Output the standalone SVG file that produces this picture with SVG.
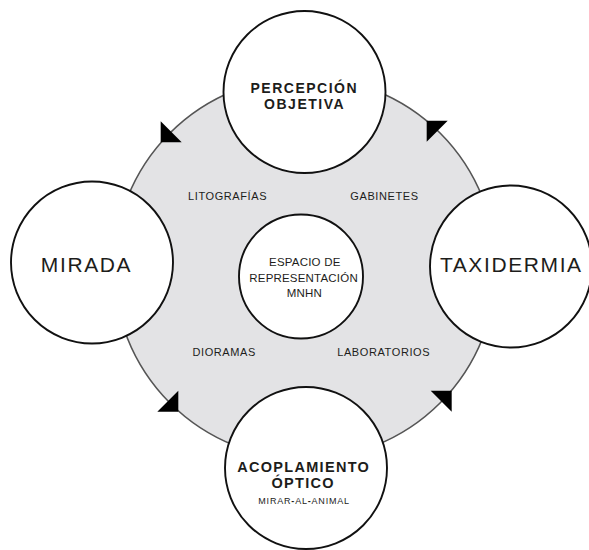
<svg xmlns="http://www.w3.org/2000/svg" width="589" height="550" viewBox="0 0 589 550">
  <defs>
    <style>
      .ring-fill { fill: #e3e3e5; stroke: none; }
      .ring { fill: none; stroke: #555555; stroke-width: 1.6; }
      .node { fill: #ffffff; stroke: #111111; stroke-width: 1.9; }
      .head { fill: #000000; }
      text { font-family: "Liberation Sans", Arial, sans-serif; fill: #1d1d1b; text-anchor: middle; }
      .title { font-size: 14px; font-weight: bold; letter-spacing: 1.5px; }
      .title-lg { font-size: 14.5px; font-weight: bold; letter-spacing: 1.3px; }
      .big { font-size: 21px; letter-spacing: 1.6px; }
      .sub { font-size: 9px; letter-spacing: 0.8px; }
      .dash { font-weight: bold; }
      .core { font-size: 11.5px; letter-spacing: 0.2px; }
      .label { font-size: 11px; letter-spacing: 0.6px; }
    </style>
    <!-- right-angled arrowhead, tip at origin, pointing down-left -->
    <path id="arrowhead" class="head" d="M0,0 L0,-21 L21,0 Z"/>
  </defs>

  <!-- shared space behind the cycle -->
  <circle class="ring-fill" cx="305" cy="268" r="191"/>

  <!-- cycle connectors (counter-clockwise) -->
  <g id="connectors">
    <path class="ring" d="M496,268 A191,191 0 0 0 305,77"/>
    <path class="ring" d="M305,77 A191,191 0 0 0 114,268"/>
    <path class="ring" d="M114,268 A191,191 0 0 0 305,459"/>
    <path class="ring" d="M305,459 A191,191 0 0 0 496,268"/>
    <use href="#arrowhead" transform="translate(426.7,120.7) rotate(90)"/>
    <use href="#arrowhead" transform="translate(160.7,142.3)"/>
    <use href="#arrowhead" transform="translate(178.3,411.7) rotate(270)"/>
    <use href="#arrowhead" transform="translate(451.7,390.7) rotate(180)"/>
  </g>

  <!-- labels inside the shared space -->
  <g id="labels">
    <text class="label" x="227.6" y="200">LITOGRAFÍAS</text>
    <text class="label" x="384.5" y="200">GABINETES</text>
    <text class="label" x="224.2" y="356.3">DIORAMAS</text>
    <text class="label" x="383.7" y="356.3">LABORATORIOS</text>
  </g>

  <g id="node-espacio">
    <circle class="node" cx="301" cy="276.5" r="62"/>
    <text class="core" x="304.8" y="265.7">ESPACIO DE</text>
    <text class="core" x="303.6" y="281.7">REPRESENTACIÓN</text>
    <text class="core" x="304.3" y="296.7">MNHN</text>
  </g>

  <g id="node-percepcion">
    <circle class="node" cx="304.5" cy="92" r="81"/>
    <text class="title" x="304.3" y="93.3">PERCEPCIÓN</text>
    <text class="title" x="304.6" y="108.5">OBJETIVA</text>
  </g>

  <g id="node-mirada">
    <circle class="node" cx="92" cy="262.5" r="81"/>
    <text class="big" x="86.5" y="272.3">MIRADA</text>
  </g>

  <g id="node-taxidermia">
    <circle class="node" cx="511" cy="266.5" r="81"/>
    <text class="big" x="511.3" y="271.7">TAXIDERMIA</text>
  </g>

  <g id="node-acoplamiento">
    <circle class="node" cx="306" cy="468" r="81"/>
    <text class="title-lg" x="303.7" y="472.3">ACOPLAMIENTO</text>
    <text class="title-lg" x="303.2" y="488.3">ÓPTICO</text>
    <text class="sub" x="304.1" y="504">MIRAR<tspan class="dash">-</tspan>AL<tspan class="dash">-</tspan>ANIMAL</text>
  </g>
</svg>
